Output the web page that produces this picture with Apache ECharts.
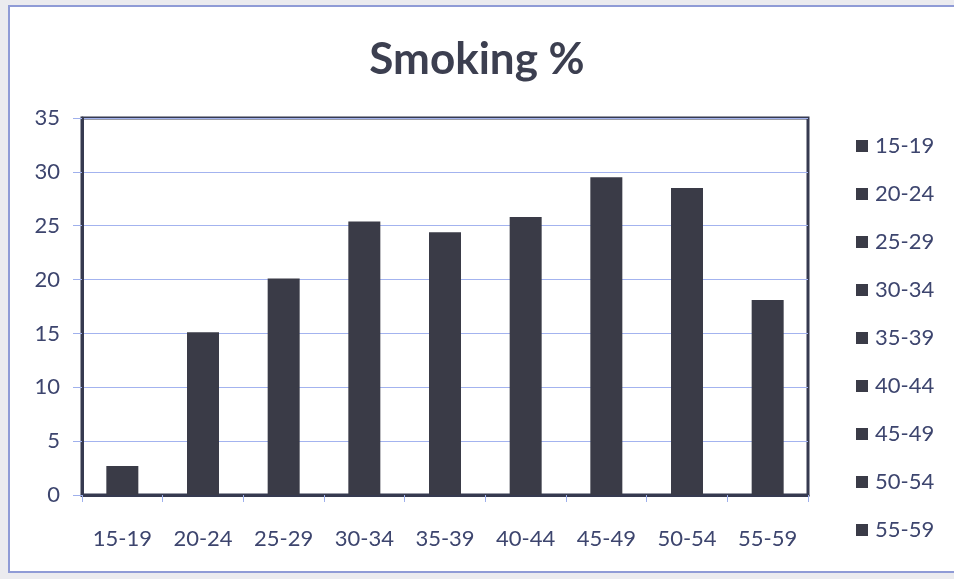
<!DOCTYPE html>
<html>
<head>
<meta charset="utf-8">
<script src="https://cdn.jsdelivr.net/npm/echarts@6/dist/echarts.min.js"></script>
<style>
  html, body { margin: 0; padding: 0; background: #ebebef; }
  #chart { width: 954px; height: 579px; }
</style>
</head>
<body>
<div id="chart"></div>
<script>
// Age groups and the share of smokers in each
const ageGroups = ['15-19', '20-24', '25-29', '30-34', '35-39', '40-44', '45-49', '50-54', '55-59'];
const smokingPct = [2.7, 15.1, 20.1, 25.4, 24.4, 25.8, 29.5, 28.5, 18.1];
const yTicks = { min: 0, max: 35, interval: 5 };

const barColor = '#3a3b47';
const textColor = '#3d456e';
const frameColor = '#363a50';

// One series per age group so every group gets its own legend entry;
// stacking keeps each bar centred in its own category slot.
const series = ageGroups.map((name, i) => ({
  name: name,
  type: 'bar',
  stack: 'groups',
  barWidth: 32,
  itemStyle: { color: barColor },
  data: ageGroups.map((_, j) => (j === i ? smokingPct[i] : '-'))
}));

const chart = echarts.init(document.getElementById('chart'), null, { renderer: 'canvas' });
chart.setOption({
  animation: false,
  backgroundColor: '#ebebef',
  graphic: [{
    type: 'rect',
    z: -10,
    shape: { x: 9, y: 6, width: 960, height: 566 },
    style: { fill: '#ffffff', stroke: '#8f9bd6', lineWidth: 2 }
  }],
  title: {
    text: 'Smoking %',
    left: 'center',
    top: 33,
    textStyle: { fontFamily: 'Lato', fontWeight: 'bold', fontSize: 44, color: '#3c3f50' }
  },
  legend: {
    orient: 'vertical',
    left: 851,
    top: 130,
    itemWidth: 12,
    itemHeight: 12,
    itemGap: 26,
    icon: 'rect',
    selectedMode: false,
    textStyle: { fontFamily: 'Lato', fontSize: 22, color: textColor, lineHeight: 22, padding: [0, 0, 0, 2] },
    data: ageGroups
  },
  grid: {
    left: 82, top: 118, width: 726, height: 377,
    show: true, borderColor: frameColor, borderWidth: 3
  },
  xAxis: {
    type: 'category',
    data: ageGroups,
    axisLine: { lineStyle: { color: frameColor, width: 3 } },
    axisTick: { show: true, length: 7, lineStyle: { color: '#9fb0ec' } },
    axisLabel: { margin: 33, fontFamily: 'Lato', fontSize: 22, color: textColor }
  },
  yAxis: {
    type: 'value',
    min: yTicks.min, max: yTicks.max, interval: yTicks.interval,
    axisLine: { show: true, lineStyle: { color: frameColor, width: 3 } },
    axisTick: { show: true, length: 9, lineStyle: { color: '#9fb0ec' } },
    splitLine: { lineStyle: { color: '#a3b3ef', width: 1 } },
    axisLabel: { margin: 22, fontFamily: 'Lato', fontSize: 22, color: textColor }
  },
  series: series
});
</script>
</body>
</html>
